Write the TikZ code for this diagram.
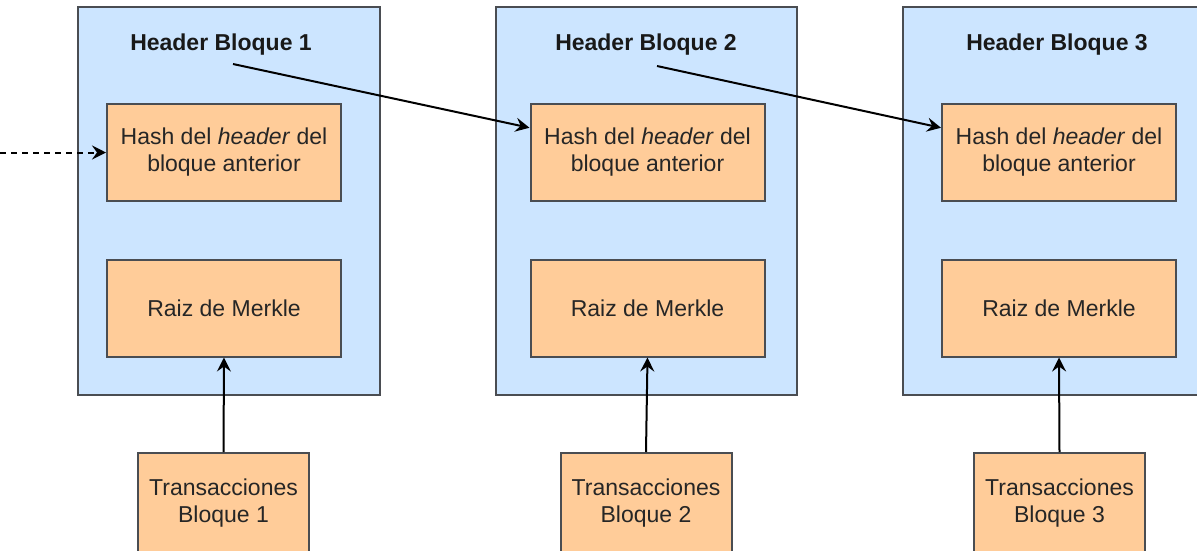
\documentclass[tikz,border=0pt]{standalone}
\usepackage{fontspec}
\setmainfont{Liberation Sans}
\usetikzlibrary{arrows.meta,calc}

\definecolor{blockfill}{HTML}{CCE5FF}
\definecolor{itemfill}{HTML}{FFCC99}
\definecolor{edgegray}{HTML}{4A4D52}

\tikzset{
  txt/.style={font=\fontsize{23}{27}\selectfont, align=center, text=black!85},
  blockbox/.style={draw=edgegray, fill=blockfill, line width=2pt, inner sep=0pt,
    minimum width=302pt, minimum height=388pt},
  itembox/.style={draw=edgegray, fill=itemfill, line width=2pt, inner sep=0pt,
    minimum width=234pt, minimum height=97pt, txt},
  txbox/.style={draw=edgegray, fill=itemfill, line width=2pt, inner sep=0pt,
    minimum width=171pt, minimum height=100pt, txt},
  title/.style={font=\fontsize{23}{27}\selectfont\bfseries, text=black!90, inner sep=0pt},
  link/.style={draw=black, line width=2pt,
    -{Stealth[length=14pt, width=14pt, inset=5pt]}},
}

\begin{document}
\begin{tikzpicture}[x=1pt, y=-1pt]
\useasboundingbox (0,0) rectangle (1197,550);
\clip (0,0) rectangle (1197,550);

% outer header blocks
\node[blockbox] (b1) at (229,201) {};
\node[blockbox, minimum width=301pt] (b2) at (646.5,201) {};
\node[blockbox] (b3) at (1054,201) {};

% block titles
\node[title] (t1) at (221,45) {Header Bloque 1};
\node[title] (t2) at (646,45) {Header Bloque 2};
\node[title] (t3) at (1057,45) {Header Bloque 3};

% previous-header hash fields
\node[itembox] (h1) at (224,152.5) {Hash del \textit{header} del\\bloque anterior};
\node[itembox] (h2) at (647.5,152.5) {Hash del \textit{header} del\\bloque anterior};
\node[itembox] (h3) at (1059,152.5) {Hash del \textit{header} del\\bloque anterior};

% Merkle roots
\node[itembox] (m1) at (224,308) {Raiz de Merkle};
\node[itembox] (m2) at (647.5,308) {Raiz de Merkle};
\node[itembox] (m3) at (1059,308) {Raiz de Merkle};

% transaction sets
\node[txbox] (tx1) at (223.5,503) {Transacciones\\Bloque 1};
\node[txbox] (tx2) at (646,503) {Transacciones\\Bloque 2};
\node[txbox] (tx3) at (1059.5,503) {Transacciones\\Bloque 3};

% header-to-header links
\coordinate (s1) at (233,64);
\coordinate (s2) at (657,66);
\coordinate (prev) at (0,152.5);
\draw[link] (s1) -- ($(h2.north west)!0.25!(h2.south west)$);
\draw[link] (s2) -- ($(h3.north west)!0.25!(h3.south west)$);
\draw[link, dash pattern=on 6pt off 5pt] (prev) -- (h1.west);

% transactions feed the Merkle roots
\draw[link] (tx1.north) -- (m1.south);
\draw[link] (tx2.north) -- (m2.south);
\draw[link] (tx3.north) -- (m3.south);
\end{tikzpicture}
\end{document}
